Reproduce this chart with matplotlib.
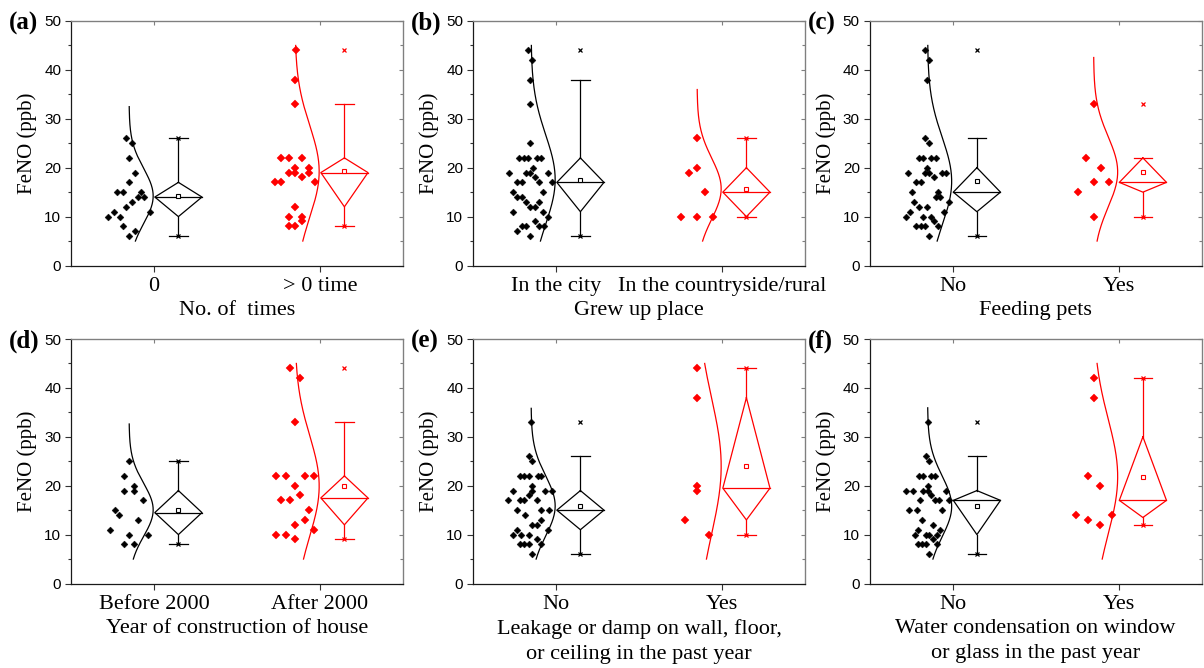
import numpy as np
import matplotlib
matplotlib.use("Agg")
import matplotlib.pyplot as plt
from matplotlib.ticker import MultipleLocator, NullFormatter

# ---------------- data ----------------
panel_tags = ["(a)", "(b)", "(c)", "(d)", "(e)", "(f)"]
x_titles = ["No. of  times", "Grew up place", "Feeding pets",
            "Year of construction of house",
            "Leakage or damp on wall, floor,\nor ceiling in the past year",
            "Water condensation on window\nor glass in the past year"]
cat_labels = [["0", "> 0 time"], ["In the city", "In the countryside/rural"],
              ["No", "Yes"], ["Before 2000", "After 2000"], ["No", "Yes"], ["No", "Yes"]]
group_colors = ["#000000", "#FF0000"]

a0_vals = [26, 25, 22, 19, 17, 15, 15, 15, 14, 14, 13, 12, 11, 11, 10, 10, 8, 7, 6]
a0_jit = [-83, -66, -75, -57, -75, -110, -93, -39, -48, -30, -66, -84, -120, -12, -137, -102, -93, -57, -75]
a1_vals = [44, 38, 33, 22, 22, 22, 20, 20, 19, 19, 19, 18, 17, 17, 17, 12, 10, 10, 9, 8, 8]
a1_jit = [-73, -74, -74, -116, -94, -54, -74, -34, -94, -74, -34, -54, -136, -116, -14, -74, -94, -54, -54, -94, -74]

b0_vals = [44, 42, 38, 33, 25, 22, 22, 22, 22, 22, 20, 19, 19, 19, 19, 18, 17, 17, 17, 17,
           15, 15, 14, 14, 13, 13, 12, 12, 11, 11, 10, 9, 8, 8, 8, 8, 7, 6]
b0_jit = [-85, -71, -77, -77, -77, -110, -97, -83, -56, -45, -70, -142, -91, -77, -25, -63, -116, -103, -50, -12,
          -129, -38, -116, -103, -90, -51, -77, -63, -129, -38, -25, -63, -103, -90, -50, -37, -116, -77]
b1_vals = [26, 20, 19, 15, 10, 10, 10]
b1_jit = [-74, -74, -98, -50, -123, -74, -27]

c0_vals = [44, 42, 38, 26, 25, 22, 22, 22, 22, 20, 19, 19, 19, 19, 19, 18, 17, 17, 15, 15,
           14, 14, 13, 13, 12, 12, 11, 11, 10, 10, 10, 9, 8, 8, 8, 8, 6]
c0_jit = [-81, -69, -75, -81, -69, -100, -88, -63, -50, -75, -134, -82, -69, -31, -18, -56, -108, -95, -121, -43,
          -49, -36, -115, -11, -101, -75, -127, -24, -140, -88, -63, -56, -108, -95, -82, -43, -69]
c1_vals = [33, 22, 20, 17, 17, 15, 10]
c1_jit = [-74, -98, -51, -74, -28, -122, -74]

d0_vals = [25, 22, 20, 19, 19, 17, 15, 14, 13, 11, 10, 10, 8, 8]
d0_jit = [-76, -90, -61, -90, -61, -33, -118, -104, -47, -133, -76, -19, -90, -61]
d1_vals = [44, 42, 33, 22, 22, 22, 22, 20, 18, 17, 17, 15, 13, 12, 11, 10, 10, 9]
d1_jit = [-90, -61, -75, -132, -103, -46, -18, -75, -61, -118, -90, -32, -46, -75, -18, -132, -103, -75]

e0_vals = [33, 26, 25, 22, 22, 22, 22, 22, 20, 19, 19, 19, 19, 18, 17, 17, 17, 17, 15, 15,
           15, 14, 13, 12, 12, 11, 11, 10, 10, 10, 9, 8, 8, 8, 8, 6]
e0_jit = [-76, -82, -71, -109, -95, -81, -55, -45, -71, -129, -71, -34, -12, -82, -143, -107, -95, -58, -117, -46,
          -22, -94, -46, -71, -58, -117, -23, -129, -105, -81, -58, -108, -95, -81, -46, -71]
e1_vals = [44, 38, 20, 19, 13, 10]
e1_jit = [-75, -75, -75, -75, -110, -39]

f0_vals = [33, 26, 25, 22, 22, 22, 22, 20, 19, 19, 19, 19, 19, 18, 17, 17, 17, 17, 15, 15,
           15, 13, 12, 11, 11, 10, 10, 10, 10, 9, 8, 8, 8, 8, 6]
f0_jit = [-74, -80, -69, -99, -87, -65, -52, -74, -139, -119, -87, -74, -20, -64, -96, -52, -41, -9, -130, -107,
          -30, -91, -58, -102, -37, -113, -80, -69, -47, -58, -104, -91, -80, -47, -69]
f1_vals = [42, 38, 22, 20, 14, 14, 13, 12]
f1_jit = [-73, -73, -91, -56, -127, -19, -91, -56]

# box statistics: [black group, red group] per panel
box_q1 = [[10, 12], [11, 10], [11, 15], [10, 12], [11, 13], [10, 13.5]]
box_med = [[14, 19], [17, 15], [15, 17], [14.5, 17.5], [15, 19.5], [17, 17]]
box_q3 = [[17, 22], [22, 20], [20, 22], [19, 22], [19, 38], [19, 30]]
whisk_lo = [[6, 8], [6, 10], [6, 10], [8, 9], [6, 10], [6, 12]]
whisk_hi = [[26, 33], [38, 26], [26, 22], [25, 33], [26, 44], [26, 42]]

values = [[a0_vals, a1_vals], [b0_vals, b1_vals], [c0_vals, c1_vals],
          [d0_vals, d1_vals], [e0_vals, e1_vals], [f0_vals, f1_vals]]
jitters = [[a0_jit, a1_jit], [b0_jit, b1_jit], [c0_jit, c1_jit],
           [d0_jit, d1_jit], [e0_jit, e1_jit], [f0_jit, f1_jit]]

# ---------------- style ----------------
SERIF = ["Liberation Serif", "DejaVu Serif"]
SANS = ["Liberation Sans", "DejaVu Sans"]
LW = 0.9

fig = plt.figure(figsize=(12.04, 6.68), dpi=100)
FW, FH = 1204.0, 668.0
col_left = [71, 473, 869.5]
row_top = [21, 339]
AW, AH = 332, 244.5

for i in range(6):
    r, c = divmod(i, 3)
    ax = fig.add_axes([col_left[c] / FW, 1 - (row_top[r] + AH) / FH, AW / FW, AH / FH])
    ax.set_xlim(0.5, 2.5)
    ax.set_ylim(0, 50)

    for g in range(2):
        pos = g + 1
        col = group_colors[g]
        vals = np.array(values[i][g], dtype=float)
        jit = np.array(jitters[i][g], dtype=float) / 497.0
        # jittered points
        ax.plot(pos + jit, vals, linestyle="none", marker="D", ms=3.5 if g == 0 else 3.8,
                mfc=col, mec=col, mew=0.3, zorder=4, clip_on=False)
        # normal curve
        m = vals.mean()
        sd = vals.std(ddof=1)
        ys = np.linspace(max(5, m - 3.25 * sd), min(45, m + 3.25 * sd), 300)
        xs = pos - 0.15 + 0.145 * np.exp(-0.5 * ((ys - m) / sd) ** 2)
        ax.plot(xs, ys, color=col, lw=LW, zorder=3)
        # diamond box
        bx = pos + 0.147
        hw = 0.142
        q1, md, q3 = box_q1[i][g], box_med[i][g], box_q3[i][g]
        lo, hi = whisk_lo[i][g], whisk_hi[i][g]
        ax.plot([bx, bx + hw, bx, bx - hw, bx], [q3, md, q1, md, q3], color=col, lw=LW, zorder=3)
        ax.plot([bx - hw, bx + hw], [md, md], color=col, lw=LW, zorder=3)
        ax.plot([bx, bx], [q3, hi], color=col, lw=LW, zorder=3)
        ax.plot([bx, bx], [q1, lo], color=col, lw=LW, zorder=3)
        cap = 0.055
        ax.plot([bx - cap, bx + cap], [hi, hi], color=col, lw=LW, zorder=3)
        ax.plot([bx - cap, bx + cap], [lo, lo], color=col, lw=LW, zorder=3)
        # mean
        ax.plot([bx], [m], marker="s", ms=3.0, mfc="white", mec=col, mew=0.8, zorder=5)
        # min / max
        ax.plot([bx, bx], [vals.min(), vals.max()], linestyle="none", marker="x", ms=3.0,
                mec=col, mew=0.9, zorder=5)

    # axes styling
    for sp in ["top", "right"]:
        ax.spines[sp].set_color("#7f7f7f")
        ax.spines[sp].set_linewidth(0.9)
    for sp in ["left", "bottom"]:
        ax.spines[sp].set_color("#1a1a1a")
        ax.spines[sp].set_linewidth(0.9)
    ax.yaxis.set_major_locator(MultipleLocator(10))
    ax.yaxis.set_minor_locator(MultipleLocator(5))
    ax.set_xticks([1, 2])
    ax.set_xticklabels(cat_labels[i], fontfamily=SERIF, fontsize=16)
    ax.tick_params(axis="x", which="both", direction="out", length=4, width=0.8, pad=4,
                   color="#333333")
    ax.tick_params(axis="y", which="major", direction="out", length=4, width=0.8, pad=3,
                   color="#333333", labelsize=11)
    ax.tick_params(axis="y", which="minor", direction="out", length=2.2, width=0.8,
                   color="#333333")
    for lab in ax.get_yticklabels():
        lab.set_fontfamily(SANS)

    # mirrored ticks on top/right (inward)
    secx = ax.secondary_xaxis("top")
    secx.set_xticks([1, 2])
    secx.xaxis.set_major_formatter(NullFormatter())
    secx.tick_params(direction="in", length=3, width=0.8, color="#7f7f7f")
    secx.spines["top"].set_color("#7f7f7f")
    secy = ax.secondary_yaxis("right")
    secy.yaxis.set_major_locator(MultipleLocator(10))
    secy.yaxis.set_minor_locator(MultipleLocator(5))
    secy.yaxis.set_major_formatter(NullFormatter())
    secy.tick_params(which="major", direction="in", length=3, width=0.8, color="#7f7f7f")
    secy.tick_params(which="minor", direction="in", length=2, width=0.8, color="#7f7f7f")
    secy.spines["right"].set_color("#7f7f7f")

    ax.set_ylabel("FeNO (ppb)", fontfamily=SERIF, fontsize=15, labelpad=5)
    ax.set_xlabel(x_titles[i], fontfamily=SERIF, fontsize=16, labelpad=4, linespacing=1.45)

    # panel tag
    fig.text((col_left[c] - 62) / FW, 1 - (row_top[r] + 2) / FH, panel_tags[i],
             fontfamily=SERIF, fontweight="bold", fontsize=18, ha="left", va="center")

fig.savefig("out.png", dpi=100)
